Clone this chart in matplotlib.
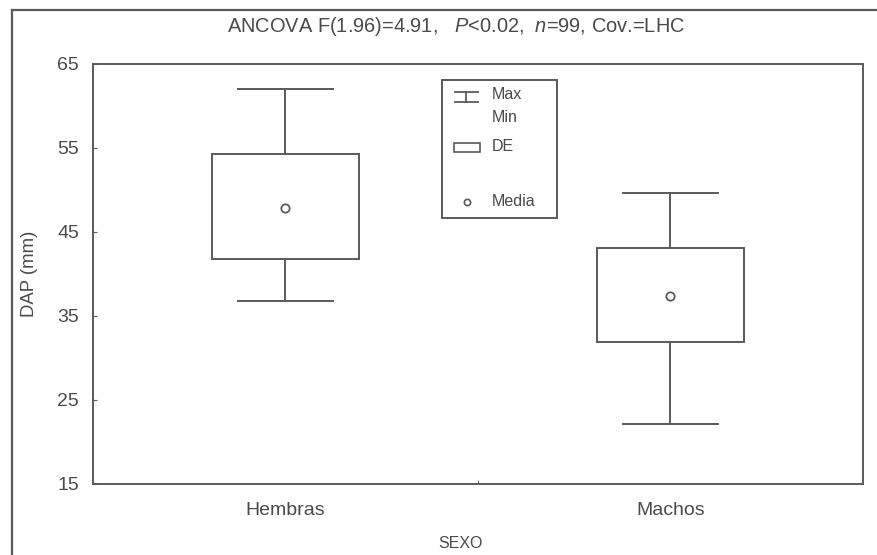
import matplotlib.pyplot as plt
from matplotlib.patches import Rectangle
from matplotlib.lines import Line2D

# DAP by sex: mean, +/- SD box, min/max whiskers
groups = ['Hembras', 'Machos']
media = [47.9, 37.4]
de_low = [41.8, 31.9]
de_high = [54.3, 43.1]
minimo = [36.8, 22.1]
maximo = [62.0, 49.6]

yticks = [15, 25, 35, 45, 55, 65]

gray = '#5a5a5a'
txt = '#4a4a4a'
plt.rcParams['font.family'] = ['Liberation Sans', 'DejaVu Sans']
plt.rcParams['mathtext.fontset'] = 'custom'
plt.rcParams['mathtext.rm'] = 'Liberation Sans'
plt.rcParams['mathtext.it'] = 'Liberation Sans:italic'

fig = plt.figure(figsize=(8.78, 5.55), dpi=100)
ax = fig.add_axes([93 / 878, 1 - 484 / 555, 770 / 878, 420 / 555])

pos = [1, 2]
box_w = 0.38
cap_w = 0.245
for x, lo, hi, mn, mx, m in zip(pos, de_low, de_high, minimo, maximo, media):
    ax.add_patch(Rectangle((x - box_w / 2, lo), box_w, hi - lo,
                           fill=False, edgecolor=gray, lw=1.4))
    ax.plot([x, x], [hi, mx], color=gray, lw=1.4)
    ax.plot([x, x], [mn, lo], color=gray, lw=1.4)
    ax.plot([x - cap_w / 2, x + cap_w / 2], [mx, mx], color=gray, lw=1.4)
    ax.plot([x - cap_w / 2, x + cap_w / 2], [mn, mn], color=gray, lw=1.4)
    ax.plot(x, m, 'o', ms=6, mfc='white', mec=gray, mew=1.3)

ax.set_xlim(0.5, 2.5)
ax.set_ylim(15, 65)
ax.set_yticks(yticks)
ax.set_xticks(pos)
ax.set_xticklabels(groups)
ax.set_xticks([1.5], minor=True)
ax.tick_params(axis='y', direction='in', length=3, color=gray, labelsize=14,
               labelcolor=txt, pad=10)
ax.tick_params(axis='x', which='major', length=0, labelsize=14,
               labelcolor=txt, pad=13)
ax.tick_params(axis='x', which='minor', direction='in', length=3, color=gray)
for s in ax.spines.values():
    s.set_color(gray)
    s.set_linewidth(1.4)

ax.set_ylabel('DAP (mm)', fontsize=13.4, color=txt)
ax.yaxis.set_label_coords(-0.071, 0.5)
fig.text(460 / 878, 1 - 543 / 555, 'SEXO', fontsize=11.5, color=txt,
         ha='center', va='center')

# title with italic P and n
fig.text(456 / 878, 1 - 26 / 555,
         r'ANCOVA F(1.96)=4.91,   $\mathit{P}$<0.02,  $\mathit{n}$=99, Cov.=LHC',
         fontsize=14.4, color=txt, ha='center', va='center')

# legend drawn in axes coordinates
tr = ax.transAxes
def ax_x(px):
    return (px - 93) / 770
def ax_y(py):
    return 1 - (py - 64) / 420

ax.add_patch(Rectangle((ax_x(442), ax_y(218)), ax_x(557) - ax_x(442),
                       ax_y(80) - ax_y(218), transform=tr, fill=False,
                       edgecolor=gray, lw=1.4))
ax.add_line(Line2D([ax_x(455), ax_x(478)], [ax_y(92), ax_y(92)], transform=tr, color=gray, lw=1.3))
ax.add_line(Line2D([ax_x(455), ax_x(478)], [ax_y(102), ax_y(102)], transform=tr, color=gray, lw=1.3))
ax.add_line(Line2D([ax_x(466.5), ax_x(466.5)], [ax_y(92), ax_y(102)], transform=tr, color=gray, lw=1.3))
ax.add_patch(Rectangle((ax_x(454), ax_y(152)), ax_x(480) - ax_x(454),
                       ax_y(143) - ax_y(152), transform=tr, fill=False,
                       edgecolor=gray, lw=1.2))
ax.plot(ax_x(467), ax_y(202), 'o', transform=tr, ms=4.5, mfc='white', mec=gray, mew=1.2)
for label, py in [('Max', 95), ('Min', 118), ('DE', 147), ('Media', 202)]:
    ax.text(ax_x(492), ax_y(py), label, transform=tr, fontsize=11.5,
            color=txt, va='center', ha='left')

# outer frame lines
fig.add_artist(Line2D([12 / 878, 12 / 878], [0, 1 - 10 / 555], color=gray, lw=1.6))
fig.add_artist(Line2D([12 / 878, 1], [1 - 10 / 555, 1 - 10 / 555], color=gray, lw=1.6))

fig.savefig('out.png', dpi=100)
